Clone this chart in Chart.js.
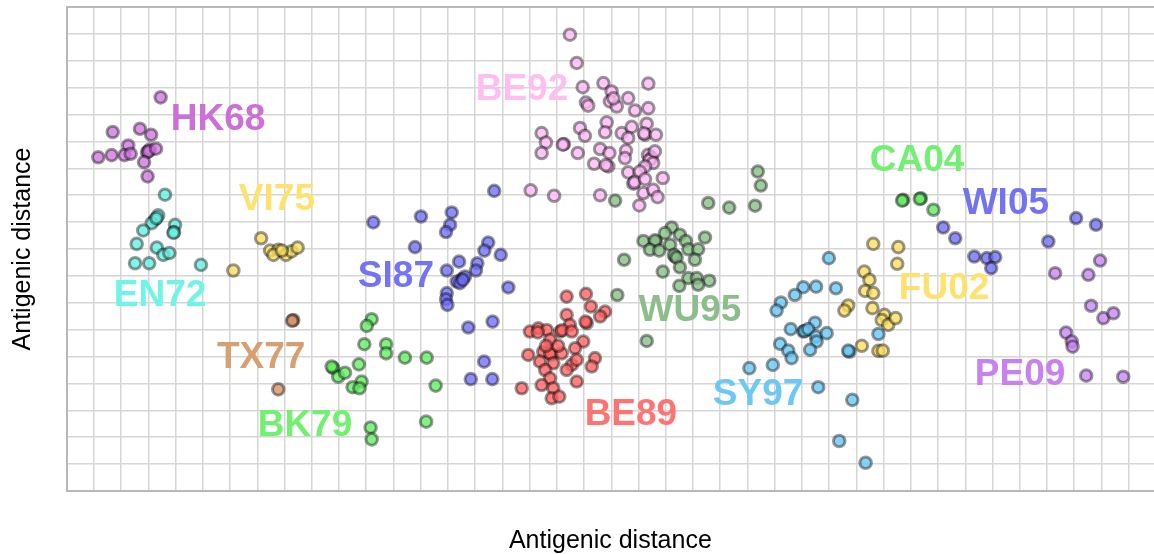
<!DOCTYPE html>
<html><head><meta charset="utf-8">
<script src="https://cdn.jsdelivr.net/npm/chart.js@4"></script>
<style>html,body{margin:0;padding:0;background:#fff;overflow:hidden}#wrap{width:1154px;height:554px;position:relative}</style>
</head><body><div id="wrap"><canvas id="c"></canvas></div>
<script>
// ---- data (antigenic units) ----
const HK68 = [[3.45,14.64],[1.69,13.35],[2.69,13.47],[3.10,13.25],[2.26,12.85],[1.16,12.41],[1.65,12.49],[2.12,12.49],[2.35,12.54],[2.95,12.60],[3.05,12.70],[3.00,12.62],[3.28,12.73],[2.84,12.23],[2.97,11.70]];
const EN72 = [[3.61,11.02],[3.36,10.25],[3.24,10.09],[3.12,9.96],[3.30,10.15],[3.98,9.90],[3.94,9.63],[3.92,9.60],[2.81,9.69],[2.57,9.19],[3.31,9.05],[3.55,8.78],[3.77,8.85],[2.51,8.47],[3.03,8.47],[4.93,8.41]];
const VI75 = [[7.14,9.40],[6.12,8.20],[7.47,8.94],[7.77,8.97],[8.05,8.78],[8.26,8.91],[8.48,9.05],[7.59,8.78],[7.90,8.94]];
const TX77 = [[8.32,6.36],[8.28,6.33],[7.77,3.78]];
const BK79 = [[11.20,6.39],[11.02,6.14],[10.93,5.46],[11.73,5.46],[11.73,5.12],[12.42,4.96],[13.22,4.96],[10.73,4.71],[9.79,4.57],[9.97,4.25],[10.22,4.40],[9.73,4.63],[10.83,4.07],[10.50,3.86],[10.75,3.82],[13.55,3.92],[13.20,2.58],[11.16,2.36],[11.20,1.92]];
const SI87 = [[15.70,11.16],[11.26,9.99],[13.01,10.21],[14.14,10.36],[14.08,9.90],[13.93,9.63],[12.79,9.07],[15.48,9.24],[15.34,8.94],[15.94,8.78],[14.41,8.53],[15.08,8.47],[15.03,8.20],[13.96,8.20],[14.51,7.88],[14.32,7.79],[14.63,7.98],[14.44,7.73],[14.55,7.85],[16.22,7.57],[13.96,7.36],[13.93,7.13],[13.98,6.92],[15.64,6.30],[14.75,6.08],[15.33,4.81],[14.84,4.16],[15.63,4.16]];
const BE89 = [[18.36,7.23],[19.07,7.33],[19.25,6.86],[19.77,6.67],[19.59,6.49],[18.36,6.55],[19.10,6.24],[19.05,6.30],[18.48,6.18],[18.12,5.93],[18.20,5.98],[18.55,5.93],[17.01,5.93],[17.32,6.05],[17.63,5.99],[17.75,5.62],[18.97,5.56],[18.67,5.31],[16.95,5.06],[17.50,5.18],[17.81,5.06],[17.75,5.12],[18.18,5.12],[17.38,4.81],[17.87,4.75],[18.55,4.69],[18.73,4.88],[19.40,4.94],[19.28,4.63],[17.57,4.50],[18.36,4.50],[17.75,4.19],[17.44,3.94],[18.73,4.07],[17.87,3.82],[16.71,3.82],[17.81,3.45],[18.09,3.51],[17.30,5.90],[18.05,5.40],[17.60,5.40]];
const BE92 = [[18.48,16.97],[18.73,15.92],[18.95,15.02],[19.71,15.17],[21.36,15.15],[19.07,14.45],[19.15,14.33],[20.01,14.86],[19.95,14.49],[20.20,14.30],[20.08,14.60],[20.62,14.61],[20.87,14.15],[21.36,14.24],[18.85,13.50],[19.03,13.21],[19.83,13.71],[19.77,13.34],[20.38,13.31],[20.75,13.54],[20.62,13.13],[21.30,13.66],[21.24,13.25],[21.20,13.30],[21.64,13.25],[17.44,13.31],[17.60,12.96],[17.44,12.57],[18.26,12.90],[18.22,12.88],[18.77,12.57],[19.59,12.72],[19.93,12.57],[19.37,12.17],[19.89,12.07],[19.80,12.12],[20.54,12.66],[20.50,12.38],[21.42,12.44],[21.35,12.50],[21.48,12.38],[21.40,12.30],[21.60,12.63],[21.54,12.20],[21.24,12.07],[20.62,11.85],[21.05,11.88],[20.81,11.43],[20.85,11.48],[21.24,11.60],[21.89,11.64],[17.04,11.18],[17.90,10.98],[19.59,11.00],[21.18,11.08],[21.54,11.20],[21.70,10.93],[21.03,10.62]];
const WU95 = [[20.14,10.80],[23.56,10.71],[24.33,10.54],[25.28,10.61],[25.38,11.88],[25.49,11.36],[22.22,9.80],[21.97,9.59],[22.52,9.53],[22.74,9.30],[23.44,9.43],[21.18,9.30],[21.64,9.28],[21.60,9.32],[21.42,8.97],[21.76,8.94],[22.16,9.16],[22.34,8.72],[22.30,8.78],[22.40,8.68],[22.83,8.99],[23.19,8.99],[23.07,8.60],[22.52,8.32],[20.47,8.60],[21.89,8.16],[22.83,7.92],[23.14,7.92],[23.60,7.82],[22.50,7.63],[23.19,7.67],[20.22,7.29],[21.30,5.58]];
const SY97 = [[27.99,8.66],[27.52,7.60],[27.05,7.58],[26.74,7.29],[28.25,7.54],[26.23,7.01],[26.07,6.71],[27.48,6.26],[26.59,6.02],[27.05,5.93],[27.10,5.95],[27.23,6.02],[27.52,5.74],[27.54,5.56],[27.91,5.87],[26.20,5.47],[26.50,5.22],[26.62,4.94],[27.30,5.25],[28.74,5.18],[28.70,5.22],[29.81,5.84],[25.93,4.69],[25.07,4.57],[27.60,3.86],[28.85,3.39],[28.37,1.86],[29.34,1.05]];
const FU02 = [[29.62,9.19],[30.54,9.07],[30.50,8.45],[29.29,8.16],[29.48,7.85],[29.32,7.44],[29.62,7.36],[28.70,6.90],[28.56,6.71],[29.59,6.80],[30.03,6.55],[29.93,6.36],[30.17,6.18],[30.44,6.43],[29.20,5.40],[29.81,5.21],[29.97,5.22]];
const CA04 = [[30.72,10.83],[30.68,10.80],[31.37,10.89],[31.33,10.86],[31.83,10.46]];
const WI05 = [[32.19,9.80],[32.63,9.40],[33.33,8.72],[33.79,8.66],[34.10,8.70],[33.95,8.29],[36.05,9.28],[37.07,10.15],[37.80,9.90]];
const PE09 = [[36.30,8.10],[37.95,8.57],[37.52,8.04],[37.62,6.89],[38.07,6.43],[38.44,6.61],[36.70,5.89],[36.91,5.56],[36.94,5.37],[37.44,4.29],[38.80,4.25]];

const clusterNames = ['HK68','EN72','VI75','TX77','BK79','SI87','BE89','BE92','WU95','SY97','FU02','CA04','WI05','PE09'];
const clusterPoints = [HK68,EN72,VI75,TX77,BK79,SI87,BE89,BE92,WU95,SY97,FU02,CA04,WI05,PE09];
// label anchor (antigenic units)
const labelX = [5.56,3.43,7.72,7.14,8.75,12.09,20.72,16.72,22.89,25.39,32.22,31.23,34.49,35.01];
const labelY = [13.81,7.26,10.83,4.95,2.42,7.96,2.83,14.92,6.70,3.57,7.52,12.28,10.68,4.32];
const xTicks = Array.from({length:40},(_,i)=>i);
const yTicks = Array.from({length:19},(_,i)=>i);
const X_MAX = 39.93, Y_MAX = 18;

// ---- styles ----
const pointColors = ['rgba(210,120,225,0.8)','rgba(100,240,225,0.8)','rgba(250,222,100,0.8)','rgba(212,148,105,0.8)','rgba(100,238,100,0.8)','rgba(112,112,250,0.8)','rgba(255,100,100,0.8)','rgba(255,185,245,0.8)','rgba(135,190,135,0.8)','rgba(105,200,245,0.8)','rgba(250,222,100,0.8)','rgba(100,235,100,0.8)','rgba(112,112,245,0.8)','rgba(200,135,245,0.8)'];
const labelColors = ['#cc6fd6','#6ef5e6','#ffe26e','#d7a073','#72f072','#7373f5','#ff7373','#ffbef0','#8cbe8c','#6ec8f5','#ffe26e','#72f072','#7373f2','#c882f0'];

const datasets = clusterNames.map((n,i)=>({
  label:n,
  data: clusterPoints[i].map(p=>({x:p[0],y:p[1]})),
  backgroundColor: pointColors[i],
  borderColor:'rgba(0,0,0,0.4)',
  borderWidth:3,
  pointRadius:5.8
}));

const framePlugin = {
  id:'frame',
  beforeDatasetsDraw(chart){
    const {ctx, chartArea:a} = chart;
    ctx.save();
    ctx.strokeStyle='#b8b8b8'; ctx.lineWidth=2;
    ctx.beginPath(); ctx.moveTo(a.left, a.top); ctx.lineTo(a.right, a.top); ctx.stroke();
    ctx.restore();
  }
};
const labelPlugin = {
  id:'clusterLabels',
  afterDatasetsDraw(chart){
    const {ctx, scales:{x,y}} = chart;
    ctx.save();
    ctx.font = 'bold 37px "Liberation Sans", Arial, sans-serif';
    ctx.textAlign='center'; ctx.textBaseline='middle';
    clusterNames.forEach((n,i)=>{
      ctx.fillStyle = labelColors[i];
      ctx.fillText(n, x.getPixelForValue(labelX[i]), y.getPixelForValue(labelY[i]));
    });
    ctx.restore();
  }
};

new Chart(document.getElementById('c'), {
  type:'scatter',
  data:{datasets},
  plugins:[framePlugin,labelPlugin],
  options:{
    responsive:true, maintainAspectRatio:false, animation:false, events:[],
    layout:{autoPadding:false, padding:{top:7,left:0,right:0,bottom:0}},
    plugins:{legend:{display:false},tooltip:{enabled:false}},
    scales:{
      x:{type:'linear',min:0,max:X_MAX,
        afterBuildTicks:s=>{s.ticks=xTicks.map(v=>({value:v}));},
        ticks:{display:false},
        grid:{color:'#d6d6d6',lineWidth:1.5,drawTicks:false},
        border:{display:true,color:'#b8b8b8',width:2},
        title:{display:true,text:'Antigenic distance',color:'#000',font:{size:25,lineHeight:1,family:'"Liberation Sans", Arial, sans-serif'},padding:{top:37.5,bottom:0.5}}
      },
      y:{type:'linear',min:0,max:Y_MAX,
        afterBuildTicks:s=>{s.ticks=yTicks.map(v=>({value:v}));},
        ticks:{display:false},
        grid:{color:'#d6d6d6',lineWidth:1.5,drawTicks:false},
        border:{display:true,color:'#b8b8b8',width:2},
        title:{display:true,text:'Antigenic distance',color:'#000',font:{size:25,lineHeight:1,family:'"Liberation Sans", Arial, sans-serif'},padding:{top:11,bottom:30.7}}
      }
    }
  }
});
</script></body></html>
